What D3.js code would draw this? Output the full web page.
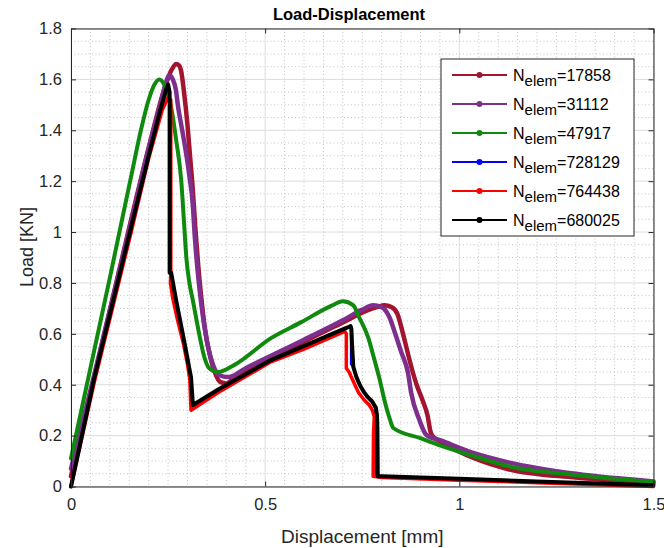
<!DOCTYPE html>
<html><head><meta charset="utf-8">
<script src="https://cdn.jsdelivr.net/npm/d3@7"></script>
<style>body{margin:0;background:#fff}svg{display:block}text{font-family:"Liberation Sans",Arial,Helvetica,sans-serif}</style>
</head><body><svg id="c" width="664" height="548"></svg>
<script>
// ---------- data ----------
const seriesNames = ["17858","31112","47917","728129","764438","680025"];
const seriesColors = ["#A2142F","#7E2F8E","#0F8A0F","#0000FF","#FF0000","#000000"];
const seriesWidths = [4.5,4.5,4,1.5,3.5,4];

const disp17858 = [0,0.06,0.155,0.20,0.24,0.26,0.271,0.278,0.284,0.291,0.300,0.307,0.314,0.320,0.327,0.335,0.345,0.357,0.370,0.385,0.400,0.420,0.500,0.600,0.700,0.760,0.790,0.807,0.825,0.840,0.855,0.868,0.880,0.890,0.905,0.918,0.926,0.930,0.960,1.040,1.126,1.300,1.500];
const load17858 = [0.04,0.43,1.05,1.33,1.56,1.64,1.66,1.655,1.63,1.55,1.42,1.29,1.16,1.02,0.88,0.75,0.62,0.52,0.45,0.41,0.405,0.425,0.49,0.57,0.645,0.69,0.706,0.712,0.705,0.68,0.60,0.52,0.45,0.40,0.34,0.28,0.215,0.20,0.17,0.11,0.068,0.035,0.012];

const disp31112 = [0,0.06,0.155,0.20,0.23,0.245,0.253,0.262,0.270,0.276,0.284,0.291,0.304,0.314,0.318,0.323,0.330,0.340,0.353,0.366,0.381,0.405,0.450,0.600,0.700,0.750,0.778,0.800,0.820,0.835,0.850,0.868,0.876,0.897,0.915,0.954,1.040,1.126,1.300,1.500];
const load31112 = [0.07,0.44,1.04,1.33,1.50,1.59,1.616,1.60,1.56,1.49,1.42,1.36,1.23,1.10,1.00,0.90,0.79,0.665,0.548,0.477,0.438,0.43,0.465,0.577,0.653,0.695,0.712,0.705,0.665,0.60,0.53,0.445,0.368,0.262,0.203,0.18,0.13,0.095,0.05,0.02];

const disp47917 = [0,0.10,0.155,0.18,0.20,0.215,0.227,0.240,0.258,0.271,0.284,0.291,0.297,0.305,0.314,0.330,0.343,0.356,0.379,0.420,0.515,0.593,0.670,0.700,0.727,0.742,0.765,0.781,0.795,0.807,0.820,0.830,0.900,0.954,1.040,1.126,1.300,1.500];
const load47917 = [0.11,0.82,1.22,1.40,1.52,1.58,1.60,1.58,1.49,1.36,1.20,1.04,0.90,0.80,0.73,0.60,0.51,0.465,0.45,0.477,0.583,0.646,0.71,0.728,0.712,0.665,0.587,0.50,0.42,0.34,0.27,0.23,0.19,0.16,0.118,0.08,0.045,0.018];

const disp728129 = [0,0.059,0.155,0.20,0.23,0.245,0.250,0.254,0.254,0.258,0.271,0.291,0.309,0.314,0.378,0.515,0.593,0.680,0.714,0.720,0.720,0.727,0.735,0.745,0.755,0.765,0.775,0.784,0.784,0.800,1.000,1.200,1.500];
const load728129 = [0,0.42,1.02,1.30,1.48,1.56,1.58,1.55,0.84,0.84,0.73,0.575,0.43,0.32,0.38,0.497,0.548,0.605,0.626,0.63,0.48,0.47,0.43,0.395,0.37,0.35,0.335,0.30,0.04,0.04,0.03,0.02,0.005];

const disp764438 = [0,0.06,0.155,0.20,0.235,0.250,0.257,0.257,0.256,0.262,0.275,0.289,0.300,0.306,0.309,0.380,0.515,0.600,0.705,0.709,0.709,0.716,0.728,0.740,0.755,0.768,0.776,0.781,0.779,0.778,0.800,1.000,1.200,1.500];
const load764438 = [0,0.41,1.00,1.29,1.48,1.53,1.52,0.84,0.80,0.74,0.65,0.565,0.48,0.42,0.30,0.37,0.49,0.54,0.61,0.60,0.465,0.45,0.41,0.37,0.34,0.32,0.30,0.274,0.21,0.04,0.035,0.025,0.015,0.0];

const disp680025 = [0,0.059,0.155,0.20,0.23,0.245,0.250,0.254,0.254,0.258,0.271,0.291,0.309,0.314,0.378,0.515,0.593,0.680,0.714,0.720,0.722,0.724,0.727,0.735,0.745,0.755,0.765,0.775,0.785,0.788,0.789,0.790,0.800,1.000,1.200,1.500];
const load680025 = [0,0.42,1.02,1.30,1.48,1.56,1.58,1.55,0.84,0.84,0.73,0.575,0.43,0.32,0.38,0.497,0.548,0.605,0.626,0.63,0.62,0.55,0.47,0.43,0.395,0.37,0.35,0.335,0.31,0.28,0.23,0.04,0.04,0.03,0.02,0.005];

const xTickValues = [0,0.5,1,1.5];
const xTickLabels = ["0","0.5","1","1.5"];
const yTickValues = [0,0.2,0.4,0.6,0.8,1,1.2,1.4,1.6,1.8];
const yTickLabels = ["0","0.2","0.4","0.6","0.8","1","1.2","1.4","1.6","1.8"];

const titleText = "Load-Displacement";
const xLabelText = "Displacement [mm]";
const yLabelText = "Load [KN]";

// ---------- build ----------
const dispArrays = [disp17858,disp31112,disp47917,disp728129,disp764438,disp680025];
const loadArrays = [load17858,load31112,load47917,load728129,load764438,load680025];
const smooth = [true,true,true,false,false,false];
const series = seriesNames.map((n,i)=>({name:n,color:seriesColors[i],width:seriesWidths[i],smooth:smooth[i],
  pts:dispArrays[i].map((d,j)=>[d,loadArrays[i][j]])}));

const svg = d3.select("#c");
const L=71,R=653.5,T=28.5,B=486.5;
const x = d3.scaleLinear().domain([0,1.5]).range([L,R]);
const y = d3.scaleLinear().domain([0,1.8]).range([B,T]);

svg.append("rect").attr("width",664).attr("height",548).attr("fill","#fff");

// grid
const g = svg.append("g");
const isMajor = (v,step)=>Math.abs(v/step-Math.round(v/step))<1e-6;
const xMinor = d3.range(0,1.5001,0.05).filter(v=>!isMajor(v,0.5));
const yMinor = d3.range(0,1.8001,0.05).filter(v=>!isMajor(v,0.2));
g.selectAll(".xm").data(xMinor).join("line").attr("class","xm").attr("x1",d=>x(d)).attr("x2",d=>x(d)).attr("y1",T).attr("y2",B)
  .attr("stroke","#c4c4c4").attr("stroke-width",1).attr("stroke-dasharray","1,2.5");
g.selectAll(".ym").data(yMinor).join("line").attr("class","ym").attr("y1",d=>y(d)).attr("y2",d=>y(d)).attr("x1",L).attr("x2",R)
  .attr("stroke","#c4c4c4").attr("stroke-width",1).attr("stroke-dasharray","1,2.5");
g.selectAll(".xM").data(xTickValues).join("line").attr("class","xM").attr("x1",d=>x(d)).attr("x2",d=>x(d)).attr("y1",T).attr("y2",B)
  .attr("stroke","#dcdcdc").attr("stroke-width",1);
g.selectAll(".yM").data(yTickValues).join("line").attr("class","yM").attr("y1",d=>y(d)).attr("y2",d=>y(d)).attr("x1",L).attr("x2",R)
  .attr("stroke","#dcdcdc").attr("stroke-width",1);

// lines
const lineSmooth = d3.line().x(d=>x(d[0])).y(d=>y(d[1])).curve(d3.curveMonotoneX);
const lineStraight = d3.line().x(d=>x(d[0])).y(d=>y(d[1])).curve(d3.curveLinear);
svg.append("g").selectAll("path").data(series).join("path")
  .attr("d",d=>(d.smooth?lineSmooth:lineStraight)(d.pts)).attr("fill","none").attr("stroke",d=>d.color)
  .attr("stroke-width",d=>d.width).attr("stroke-linejoin","round").attr("stroke-linecap","round");

// axes
const axColor="#262626";
const fmtX=(d,i)=>xTickLabels[i], fmtY=(d,i)=>yTickLabels[i];
const ax = svg.append("g").attr("transform",`translate(0,${B})`)
  .call(d3.axisBottom(x).tickValues(xTickValues).tickFormat(fmtX).tickSizeInner(-5).tickSizeOuter(0).tickPadding(12));
const axT = svg.append("g").attr("transform",`translate(0,${T})`)
  .call(d3.axisTop(x).tickValues(xTickValues).tickFormat("").tickSizeInner(-5).tickSizeOuter(0));
const ay = svg.append("g").attr("transform",`translate(${L},0)`)
  .call(d3.axisLeft(y).tickValues(yTickValues).tickFormat(fmtY).tickSizeInner(-5).tickSizeOuter(0).tickPadding(9));
const ayR = svg.append("g").attr("transform",`translate(${R},0)`)
  .call(d3.axisRight(y).tickValues(yTickValues).tickFormat("").tickSizeInner(-5).tickSizeOuter(0));
[ax,axT,ay,ayR].forEach(a=>{a.select(".domain").attr("stroke",axColor);a.selectAll(".tick line").attr("stroke",axColor);
  a.selectAll("text").attr("fill",axColor).style("font-size","16.5px").style("font-family","'Liberation Sans',Arial,sans-serif");});
ax.selectAll("text").attr("dy","0.71em");

// title & labels
svg.append("text").attr("x",349).attr("y",20).attr("text-anchor","middle").attr("font-weight","bold")
  .attr("font-size","16.5px").attr("fill","#000").text(titleText);
svg.append("text").attr("x",(L+R)/2).attr("y",543).attr("text-anchor","middle")
  .attr("font-size","19px").attr("fill",axColor).text(xLabelText);
svg.append("text").attr("transform",`translate(33,247) rotate(-90)`).attr("text-anchor","middle")
  .attr("font-size","18px").attr("fill",axColor).text(yLabelText);

// legend
const lg = svg.append("g");
lg.append("rect").attr("x",441).attr("y",59).attr("width",193).attr("height",177)
  .attr("fill","#fff").attr("stroke",axColor).attr("stroke-width",1);
const rows = lg.selectAll(".row").data(series).join("g").attr("class","row")
  .attr("transform",(d,i)=>`translate(0,${75+i*29})`);
rows.append("line").attr("x1",452).attr("x2",507).attr("y1",0).attr("y2",0)
  .attr("stroke",d=>d.color).attr("stroke-width",2);
rows.append("circle").attr("cx",479.5).attr("cy",0).attr("r",3).attr("fill",d=>d.color);
const t = rows.append("text").attr("x",513).attr("y",5.5).attr("fill","#000").attr("font-size","16px");
t.append("tspan").text("N");
t.append("tspan").attr("dy",5).attr("font-size","15px").text("elem");
t.append("tspan").attr("dy",-5).text(d=>"="+d.name);
</script></body></html>
